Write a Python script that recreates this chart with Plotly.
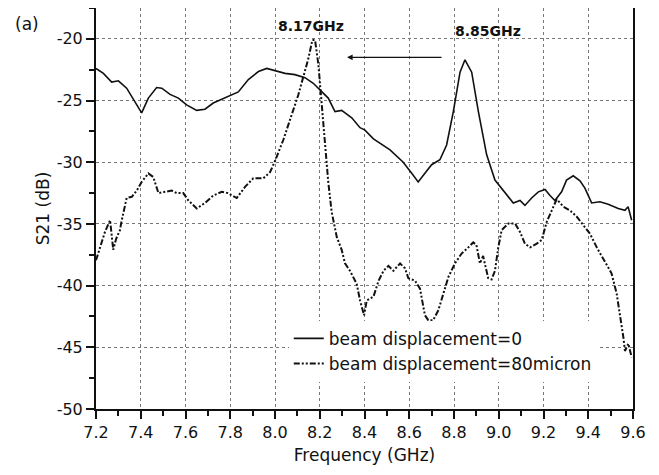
import plotly.graph_objects as go

# ---- data ----
solid_x = [7.200, 7.233, 7.270, 7.300, 7.337, 7.374, 7.404, 7.434, 7.471, 7.494,
           7.531, 7.568, 7.605, 7.650, 7.687, 7.724, 7.762, 7.800, 7.836, 7.881,
           7.926, 7.963, 8.000, 8.045, 8.089, 8.134, 8.171, 8.209, 8.238, 8.268,
           8.298, 8.343, 8.380, 8.402, 8.440, 8.514, 8.573, 8.611, 8.640, 8.670,
           8.700, 8.737, 8.767, 8.797, 8.827, 8.849, 8.879, 8.909, 8.946, 8.983,
           9.028, 9.065, 9.095, 9.117, 9.147, 9.177, 9.207, 9.229, 9.251, 9.281,
           9.303, 9.333, 9.363, 9.385, 9.415, 9.452, 9.489, 9.534, 9.564, 9.578,
           9.594]
solid_y = [-22.4, -22.8, -23.5, -23.4, -24.0, -25.1, -26.0, -24.8, -23.95, -24.0,
           -24.5, -24.8, -25.35, -25.8, -25.7, -25.2, -24.9, -24.6, -24.3, -23.3,
           -22.65, -22.4, -22.6, -22.8, -22.9, -23.15, -23.6, -24.3, -24.8, -25.9,
           -25.8, -26.4, -27.2, -27.4, -28.1, -29.0, -30.0, -30.9, -31.6, -30.9,
           -30.2, -29.8, -28.6, -25.9, -22.7, -21.7, -22.7, -25.9, -29.4, -31.45,
           -32.5, -33.3, -33.1, -33.5, -32.9, -32.4, -32.2, -32.7, -33.1, -32.4,
           -31.45, -31.1, -31.5, -32.1, -33.3, -33.2, -33.4, -33.75, -33.9, -33.6,
           -34.7]

dash_x = [7.200, 7.218, 7.240, 7.263, 7.270, 7.277, 7.290, 7.307, 7.314, 7.337,
          7.360, 7.382, 7.404, 7.434, 7.456, 7.479, 7.508, 7.538, 7.561, 7.590,
          7.613, 7.650, 7.687, 7.724, 7.762, 7.790, 7.829, 7.866, 7.903, 7.948,
          7.978, 8.000, 8.037, 8.075, 8.104, 8.127, 8.149, 8.167, 8.179, 8.194,
          8.209, 8.224, 8.238, 8.253, 8.276, 8.298, 8.313, 8.335, 8.365, 8.380,
          8.398, 8.410, 8.440, 8.463, 8.485, 8.507, 8.529, 8.559, 8.581, 8.596,
          8.626, 8.648, 8.670, 8.685, 8.707, 8.730, 8.752, 8.775, 8.804, 8.834,
          8.864, 8.886, 8.900, 8.916, 8.930, 8.953, 8.968, 8.983, 8.998, 9.013,
          9.043, 9.073, 9.095, 9.117, 9.140, 9.170, 9.192, 9.214, 9.237, 9.259,
          9.289, 9.318, 9.348, 9.378, 9.408, 9.438, 9.474, 9.504, 9.527, 9.542,
          9.557, 9.564, 9.579, 9.594]
dash_y = [-37.95, -36.9, -35.65, -34.7, -36.2, -37.1, -36.2, -35.5, -34.8, -32.9,
          -32.8, -32.3, -31.6, -30.9, -31.2, -32.5, -32.4, -32.3, -32.5, -32.5,
          -33.1, -33.75, -33.3, -32.7, -32.4, -32.5, -32.9, -32.0, -31.3, -31.3,
          -30.8, -29.9, -28.2, -26.2, -24.55, -23.05, -21.6, -20.1, -20.1, -22.1,
          -25.35, -28.9, -31.6, -34.0, -36.05, -37.1, -38.2, -38.8, -39.85, -41.2,
          -42.4, -41.2, -40.9, -39.6, -38.8, -38.4, -38.8, -38.2, -38.6, -39.4,
          -39.6, -40.25, -42.4, -42.8, -42.8, -42.0, -40.65, -39.3, -38.2, -37.4,
          -36.9, -36.5, -36.7, -38.2, -37.6, -39.4, -39.5, -38.8, -36.9, -35.5,
          -34.97, -34.97, -35.65, -36.6, -36.9, -36.6, -36.3, -34.85, -33.9, -33.0,
          -33.6, -33.9, -34.4, -35.1, -35.8, -36.9, -38.0, -39.0, -40.65, -42.3,
          -44.2, -45.3, -44.7, -45.8]

series_names = ["beam displacement=0", "beam displacement=80micron"]
peak_labels = ["8.17GHz", "8.85GHz"]
peak_label_x = [8.161, 8.952]
peak_label_y = [-18.94, -19.4]
arrow_from = (8.751, -21.5)
arrow_to = (8.322, -21.5)
x_range = [7.2, 9.6]
y_range = [-50, -17.5]
x_ticks = [7.2, 7.4, 7.6, 7.8, 8.0, 8.2, 8.4, 8.6, 8.8, 9.0, 9.2, 9.4, 9.6]
y_ticks = [-50, -45, -40, -35, -30, -25, -20]
y_tick_text = ["-50", "-45", "-40", "-35", "-30", "-25", "-20"]

FONT = "DejaVu Sans"

fig = go.Figure()
fig.add_trace(go.Scatter(x=solid_x, y=solid_y, mode="lines", name=series_names[0],
                         line=dict(color="#111111", width=1.6)))
fig.add_trace(go.Scatter(x=dash_x, y=dash_y, mode="lines", name=series_names[1],
                         line=dict(color="#111111", width=2,
                                   dash="6px,2px,2px,2px,2px,2px")))

for t, xx, yy in zip(peak_labels, peak_label_x, peak_label_y):
    fig.add_annotation(x=xx, y=yy, text="<b>%s</b>" % t, showarrow=False,
                       font=dict(family=FONT, size=14, color="#111111"))

fig.add_annotation(x=arrow_to[0], y=arrow_to[1], ax=arrow_from[0], ay=arrow_from[1],
                   xref="x", yref="y", axref="x", ayref="y", text="",
                   showarrow=True, arrowhead=2, arrowsize=0.8, arrowwidth=1.4,
                   arrowcolor="#111111")

fig.add_annotation(x=-0.155, y=0.99, xref="paper", yref="paper", text="(a)",
                   showarrow=False, font=dict(family=FONT, size=17, color="#111111"))

axis_common = dict(showline=True, linecolor="#111111", linewidth=2, mirror=True,
                   ticks="outside", ticklen=8, tickwidth=1.5, tickcolor="#111111",
                   showgrid=True, gridcolor="#777777", griddash="dot", gridwidth=1,
                   zeroline=False, automargin=False,
                   tickfont=dict(family=FONT, size=16, color="#111111"))

fig.update_xaxes(range=x_range, tickvals=x_ticks,
                 ticktext=["%.1f" % v for v in x_ticks],
                 minor=dict(dtick=0.1, tick0=7.2, ticks="outside", ticklen=5,
                            tickwidth=1.5, tickcolor="#111111", showgrid=False),
                 title=dict(text="Frequency (GHz)", standoff=8,
                            font=dict(family=FONT, size=17, color="#111111")),
                 **axis_common)
fig.update_yaxes(range=y_range, tickvals=y_ticks, ticktext=y_tick_text,
                 minor=dict(dtick=2.5, tick0=-50, ticks="outside", ticklen=5,
                            tickwidth=1.5, tickcolor="#111111", showgrid=False),
                 title=dict(text="S21 (dB)", standoff=3,
                            font=dict(family=FONT, size=17, color="#111111")),
                 **axis_common)

# the page body adds an 8px offset, so the figure is sized to fit the window
fig.update_layout(
    width=651, height=467,
    margin=dict(l=88, r=26, t=0, b=66),
    plot_bgcolor="white", paper_bgcolor="white",
    font=dict(family=FONT, color="#111111"),
    legend=dict(x=0.359, y=0.22, xanchor="left", yanchor="top",
                bgcolor="white", borderwidth=0,
                font=dict(family=FONT, size=17, color="#111111"),
                tracegroupgap=0),
)

fig.write_html("out.html")
